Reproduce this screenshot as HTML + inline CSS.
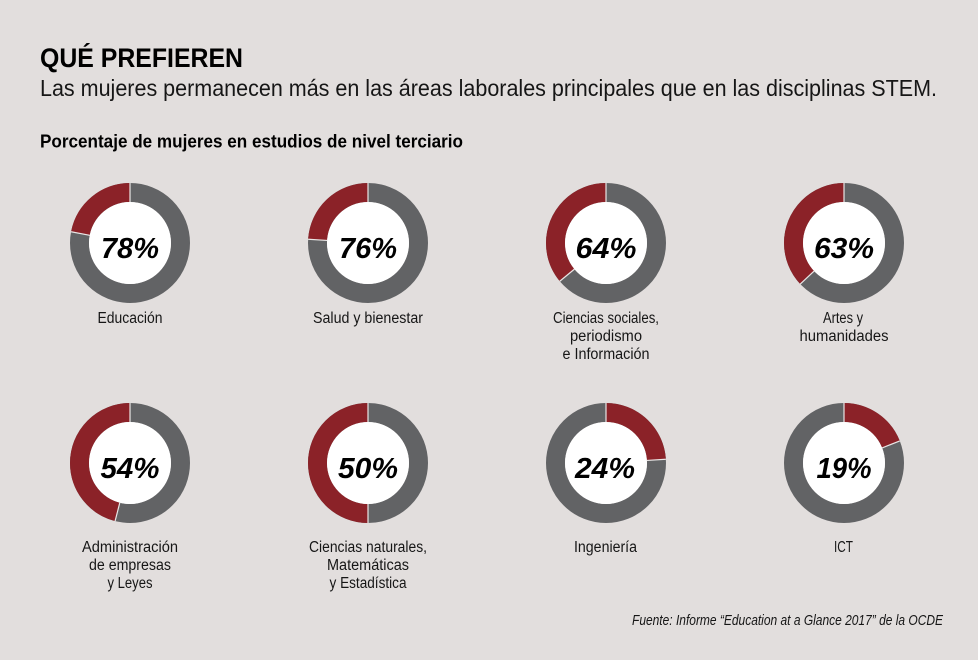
<!DOCTYPE html>
<html>
<head>
<meta charset="utf-8">
<style>
  html, body { margin:0; padding:0; background:#e2dedd; }
  svg { display:block; }
  text { font-family: "Liberation Sans", sans-serif; fill:#161616; }
  .t { font-weight:bold; font-size:27px; fill:#000; }
  .s { font-size:23px; }
  .h { font-weight:bold; font-size:18px; fill:#000; }
  .p { font-weight:bold; font-style:italic; font-size:29px; fill:#000; }
  .l { font-size:15.5px; }
  .f { font-style:italic; font-size:15px; }
</style>
</head>
<body>
<svg width="978" height="660" viewBox="0 0 978 660" xmlns="http://www.w3.org/2000/svg">
  <rect width="978" height="660" fill="#e2dedd"/>

  <text class="t" x="40" y="67" textLength="203" lengthAdjust="spacingAndGlyphs">QUÉ PREFIEREN</text>
  <text class="s" x="40" y="96" textLength="897" lengthAdjust="spacingAndGlyphs">Las mujeres permanecen más en las áreas laborales principales que en las disciplinas STEM.</text>
  <text class="h" x="40" y="147.5" textLength="423" lengthAdjust="spacingAndGlyphs">Porcentaje de mujeres en estudios de nivel terciario</text>

  <g fill="none" stroke-width="19">
    <!-- gray rings -->
    <circle cx="130" cy="243" r="50.5" stroke="#626365"/>
    <circle cx="368" cy="243" r="50.5" stroke="#626365"/>
    <circle cx="606" cy="243" r="50.5" stroke="#626365"/>
    <circle cx="844" cy="243" r="50.5" stroke="#626365"/>
    <circle cx="130" cy="463" r="50.5" stroke="#626365"/>
    <circle cx="368" cy="463" r="50.5" stroke="#626365"/>
    <circle cx="606" cy="463" r="50.5" stroke="#626365"/>
    <circle cx="844" cy="463" r="50.5" stroke="#626365"/>
    <!-- red arcs -->
    <circle cx="130" cy="243" r="50.5" stroke="#8b2228" transform="rotate(-90 130 243)" stroke-dasharray="0 247.49 69.81 1000"/>
    <circle cx="368" cy="243" r="50.5" stroke="#8b2228" transform="rotate(-90 368 243)" stroke-dasharray="0 241.15 76.15 1000"/>
    <circle cx="606" cy="243" r="50.5" stroke="#8b2228" transform="rotate(-90 606 243)" stroke-dasharray="0 203.07 114.23 1000"/>
    <circle cx="844" cy="243" r="50.5" stroke="#8b2228" transform="rotate(-90 844 243)" stroke-dasharray="0 199.90 117.40 1000"/>
    <circle cx="130" cy="463" r="50.5" stroke="#8b2228" transform="rotate(-90 130 463)" stroke-dasharray="0 171.34 145.96 1000"/>
    <circle cx="368" cy="463" r="50.5" stroke="#8b2228" transform="rotate(-90 368 463)" stroke-dasharray="0 158.65 158.65 1000"/>
    <circle cx="606" cy="463" r="50.5" stroke="#8b2228" transform="rotate(-90 606 463)" stroke-dasharray="76.15 1000"/>
    <circle cx="844" cy="463" r="50.5" stroke="#8b2228" transform="rotate(-90 844 463)" stroke-dasharray="60.29 1000"/>
  </g>

  <!-- separator lines -->
  <g stroke="#e9e6e5" stroke-width="1.2">
    <line x1="130" y1="202" x2="130" y2="183"/>
    <line x1="89.73" y1="235.32" x2="71.06" y2="231.76"/>
    <line x1="368" y1="202" x2="368" y2="183"/>
    <line x1="327.08" y1="240.43" x2="308.12" y2="239.23"/>
    <line x1="606" y1="202" x2="606" y2="183"/>
    <line x1="574.41" y1="269.13" x2="559.77" y2="281.24"/>
    <line x1="844" y1="202" x2="844" y2="183"/>
    <line x1="814.11" y1="271.06" x2="800.26" y2="284.07"/>
    <line x1="130" y1="422" x2="130" y2="403"/>
    <line x1="119.80" y1="502.71" x2="115.08" y2="521.12"/>
    <line x1="368" y1="422" x2="368" y2="403"/>
    <line x1="368" y1="504" x2="368" y2="523"/>
    <line x1="606" y1="422" x2="606" y2="403"/>
    <line x1="646.92" y1="460.43" x2="665.88" y2="459.23"/>
    <line x1="844" y1="422" x2="844" y2="403"/>
    <line x1="882.12" y1="447.91" x2="899.79" y2="440.91"/>
  </g>

  <!-- inner white -->
  <g fill="#ffffff">
    <circle cx="130" cy="243" r="41"/>
    <circle cx="368" cy="243" r="41"/>
    <circle cx="606" cy="243" r="41"/>
    <circle cx="844" cy="243" r="41"/>
    <circle cx="130" cy="463" r="41"/>
    <circle cx="368" cy="463" r="41"/>
    <circle cx="606" cy="463" r="41"/>
    <circle cx="844" cy="463" r="41"/>
  </g>

  <!-- percentages -->
  <g text-anchor="middle">
    <text class="p" x="130" y="258" textLength="58" lengthAdjust="spacingAndGlyphs">78%</text>
    <text class="p" x="368" y="258" textLength="58" lengthAdjust="spacingAndGlyphs">76%</text>
    <text class="p" x="606" y="258" textLength="61" lengthAdjust="spacingAndGlyphs">64%</text>
    <text class="p" x="844" y="258" textLength="60" lengthAdjust="spacingAndGlyphs">63%</text>
    <text class="p" x="130" y="478" textLength="59" lengthAdjust="spacingAndGlyphs">54%</text>
    <text class="p" x="368" y="478" textLength="60" lengthAdjust="spacingAndGlyphs">50%</text>
    <text class="p" x="605" y="478" textLength="60" lengthAdjust="spacingAndGlyphs">24%</text>
    <text class="p" x="844" y="478" textLength="55" lengthAdjust="spacingAndGlyphs">19%</text>
  </g>

  <!-- labels -->
  <g text-anchor="middle">
    <text class="l" x="130" y="323" textLength="65" lengthAdjust="spacingAndGlyphs">Educación</text>
    <text class="l" x="368" y="323" textLength="110" lengthAdjust="spacingAndGlyphs">Salud y bienestar</text>
    <text class="l" x="606" y="323" textLength="106" lengthAdjust="spacingAndGlyphs">Ciencias sociales,</text>
    <text class="l" x="606" y="341" textLength="72" lengthAdjust="spacingAndGlyphs">periodismo</text>
    <text class="l" x="606" y="359" textLength="87" lengthAdjust="spacingAndGlyphs">e Información</text>
    <text class="l" x="843" y="323" textLength="40" lengthAdjust="spacingAndGlyphs">Artes y</text>
    <text class="l" x="844" y="341" textLength="89" lengthAdjust="spacingAndGlyphs">humanidades</text>

    <text class="l" x="130" y="552" textLength="96" lengthAdjust="spacingAndGlyphs">Administración</text>
    <text class="l" x="130" y="570" textLength="82" lengthAdjust="spacingAndGlyphs">de empresas</text>
    <text class="l" x="130" y="588" textLength="45" lengthAdjust="spacingAndGlyphs">y Leyes</text>
    <text class="l" x="368" y="552" textLength="118" lengthAdjust="spacingAndGlyphs">Ciencias naturales,</text>
    <text class="l" x="368" y="570" textLength="82" lengthAdjust="spacingAndGlyphs">Matemáticas</text>
    <text class="l" x="368" y="588" textLength="77" lengthAdjust="spacingAndGlyphs">y Estadística</text>
    <text class="l" x="605.5" y="552" textLength="63" lengthAdjust="spacingAndGlyphs">Ingeniería</text>
    <text class="l" x="843.5" y="552" textLength="19" lengthAdjust="spacingAndGlyphs">ICT</text>
  </g>

  <text class="f" x="632" y="625" textLength="311" lengthAdjust="spacingAndGlyphs">Fuente: Informe “Education at a Glance 2017” de la OCDE</text>
</svg>
</body>
</html>
